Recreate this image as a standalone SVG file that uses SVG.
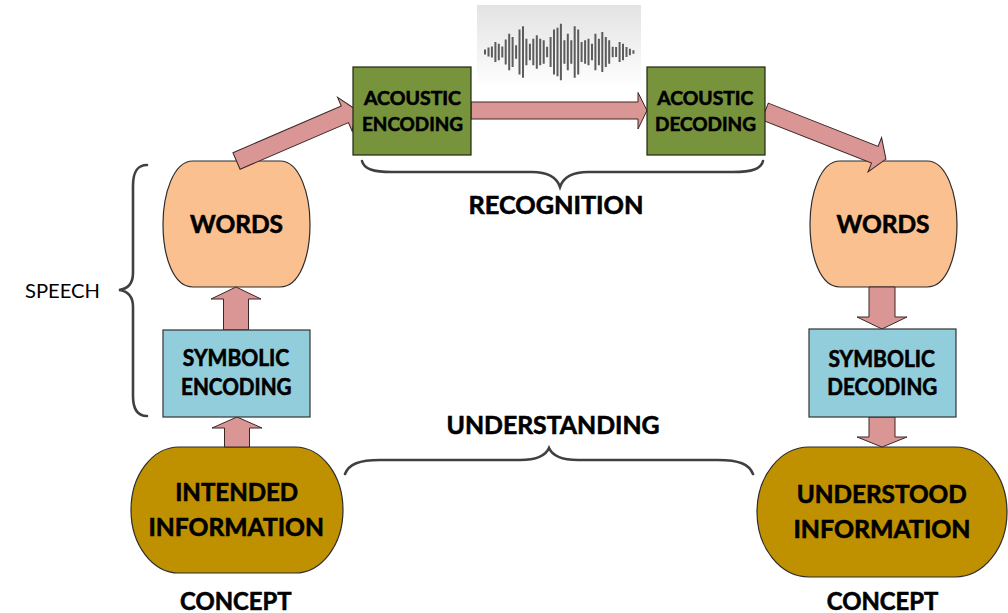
<svg xmlns="http://www.w3.org/2000/svg" width="1008" height="613" viewBox="0 0 1008 613">
  <defs>
    <linearGradient id="waveBg" x1="0" y1="0" x2="0" y2="1">
      <stop offset="0" stop-color="#e3e3e3"/>
      <stop offset="1" stop-color="#fdfdfd"/>
    </linearGradient>
    <style>
      .lbl { font-family: Lato, "Open Sans", "Liberation Sans", sans-serif; font-weight: 700; fill: #000; stroke: #000; stroke-width: 0.6; text-anchor: middle; }
      .plain { font-family: Lato, "Open Sans", "Liberation Sans", sans-serif; font-weight: 400; fill: #000; }
      .words { fill: #FAC090; stroke: #2b2b2b; stroke-width: 1.2; }
      .info { fill: #BF9000; stroke: #2b2b2b; stroke-width: 1.2; }
      .acoustic { fill: #77933C; stroke: #1e2610; stroke-width: 1.2; }
      .symbolic { fill: #92CDDC; stroke: #333; stroke-width: 1.2; }
      .arrow { fill: #D99694; stroke: #3a2626; stroke-width: 1; stroke-linejoin: miter; }
      .brace { fill: none; stroke: #404040; stroke-width: 2.6; stroke-linecap: round; }
    </style>
  </defs>

  <rect width="1008" height="613" fill="#fff"/>

  <!-- sound wave picture between the acoustic stages -->
  <g id="waveform">
    <rect x="477" y="5" width="164" height="79" fill="url(#waveBg)"/>
    <path fill="none" stroke="#5c5c5c" stroke-width="2" d="M485 49.5v5 M488.5 47.5v9 M491.9 46.5v11 M495.4 42v20 M498.8 43.7v16.6 M502.3 46.5v11 M505.7 39.5v25 M509.2 33.7v36.6 M512.6 37v30 M516.1 45.3v13.4 M519.5 29.5v45 M523 26.2v51.6 M526.4 38.7v26.6 M529.9 43.7v16.6 M533.3 38.7v26.6 M536.8 35.3v33.4 M540.2 38.7v26.6 M543.7 40.3v23.4 M547.1 46.7v10.6 M550.6 37v30 M554 29.5v45 M557.5 27.8v48.4 M560.9 23.7v56.6 M564.4 40.3v23.4 M567.8 33.7v36.6 M571.3 40.3v23.4 M574.7 26.2v51.6 M578.2 29.5v45 M581.6 42v20 M585.1 40.3v23.4 M588.5 38.7v26.6 M592 43.7v16.6 M595.4 33.7v36.6 M598.9 38.7v26.6 M602.3 32v40 M605.8 37v30 M609.2 40.3v23.4 M612.7 46.7v10.6 M616.1 47v10 M619.6 42v20 M623 43.7v16.6 M626.5 47v10 M629.9 48.7v6.6 M633.4 50.3v3.4"/>
  </g>

  <g id="words-left">
    <path class="words" d="M193,161 H280 C300,161 310,195 310,224 C310,256 300,287 280,287 H193 C173,287 163,256 163,224 C163,195 173,161 193,161 Z"/>
    <text class="lbl" x="236.5" y="233" font-size="24.5" textLength="93" lengthAdjust="spacingAndGlyphs">WORDS</text>
  </g>

  <g id="words-right">
    <path class="words" d="M840,161 H927 C947,161 957,195 957,224 C957,256 947,287 927,287 H840 C820,287 810,256 810,224 C810,195 820,161 840,161 Z"/>
    <text class="lbl" x="883" y="233" font-size="24.5" textLength="93" lengthAdjust="spacingAndGlyphs">WORDS</text>
  </g>

  <g id="intended-information">
    <rect class="info" x="131" y="447" width="212" height="126" rx="48" ry="63"/>
    <text class="lbl" x="236.7" y="500.7" font-size="24" textLength="123" lengthAdjust="spacingAndGlyphs">INTENDED</text>
    <text class="lbl" x="236.2" y="536" font-size="24" textLength="175.5" lengthAdjust="spacingAndGlyphs">INFORMATION</text>
  </g>

  <g id="understood-information">
    <rect class="info" x="757" y="447" width="250" height="130" rx="52" ry="65"/>
    <text class="lbl" x="881.7" y="502.7" font-size="24" textLength="170" lengthAdjust="spacingAndGlyphs">UNDERSTOOD</text>
    <text class="lbl" x="882" y="538.3" font-size="24" textLength="177" lengthAdjust="spacingAndGlyphs">INFORMATION</text>
  </g>

  <!-- block arrows between the stages -->
  <g id="connectors">
    <polygon class="arrow" transform="translate(236.5 161) rotate(-23.3)" points="0,-9 118,-9 118,-18.5 130,0 118,18.5 118,9 0,9"/>
    <polygon class="arrow" points="471,102 638,102 638,92.5 647,110.5 638,129 638,119 471,119"/>
    <polygon class="arrow" transform="translate(765 111.5) rotate(21.5)" points="0,-9 118,-9 118,-18.5 130,0 118,18.5 118,9 0,9"/>
    <polygon class="arrow" points="223.5,330 223.5,299 211,299 236,287 261,299 248.5,299 248.5,330"/>
    <polygon class="arrow" points="224.5,447 224.5,428 212,428 237,417 262,428 249.5,428 249.5,447"/>
    <polygon class="arrow" points="869,287 869,317 857,317 882,329 907,317 895,317 895,287"/>
    <polygon class="arrow" points="869,417 869,437 857,437 882,447 907,437 895,437 895,417"/>
  </g>

  <g id="acoustic-encoding">
    <rect class="acoustic" x="353" y="67" width="118" height="88"/>
    <text class="lbl" x="412.5" y="104.5" font-size="19" textLength="97" lengthAdjust="spacingAndGlyphs">ACOUSTIC</text>
    <text class="lbl" x="412.5" y="131" font-size="19" textLength="101" lengthAdjust="spacingAndGlyphs">ENCODING</text>
  </g>

  <g id="acoustic-decoding">
    <rect class="acoustic" x="647" y="67" width="118" height="88"/>
    <text class="lbl" x="705.3" y="104.5" font-size="19" textLength="96" lengthAdjust="spacingAndGlyphs">ACOUSTIC</text>
    <text class="lbl" x="705.5" y="131" font-size="19" textLength="101" lengthAdjust="spacingAndGlyphs">DECODING</text>
  </g>

  <g id="symbolic-encoding">
    <rect class="symbolic" x="163" y="330" width="147" height="87"/>
    <text class="lbl" x="236" y="366" font-size="22" textLength="106.5" lengthAdjust="spacingAndGlyphs">SYMBOLIC</text>
    <text class="lbl" x="236.3" y="395" font-size="22" textLength="110.5" lengthAdjust="spacingAndGlyphs">ENCODING</text>
  </g>

  <g id="symbolic-decoding">
    <rect class="symbolic" x="809" y="329" width="147" height="88"/>
    <text class="lbl" x="881.7" y="366.7" font-size="22" textLength="106.5" lengthAdjust="spacingAndGlyphs">SYMBOLIC</text>
    <text class="lbl" x="882.3" y="395" font-size="22" textLength="110" lengthAdjust="spacingAndGlyphs">DECODING</text>
  </g>

  <!-- grouping braces and their captions -->
  <g id="speech">
    <path class="brace" d="M147,165 C137,165 133,172 133,186 L133,273 C133,284 127,289 119,290 C127,291 133,296 133,307 L133,396 C133,409 137,416 147,416"/>
    <text class="plain" x="25" y="298.3" font-size="20" textLength="75" lengthAdjust="spacingAndGlyphs">SPEECH</text>
  </g>

  <g id="recognition">
    <path class="brace" d="M362,161 C364,169 373,172 392,172 L532,172 C549,172 557,178 560,187 C563,178 571,172 588,172 L733,172 C752,172 761,169 763,161"/>
    <text class="lbl" x="556" y="214" font-size="25" textLength="175" lengthAdjust="spacingAndGlyphs">RECOGNITION</text>
  </g>

  <g id="understanding">
    <path class="brace" d="M345,474 C349,464 359,460 380,460 L520,460 C538,460 546,455 549,448 C552,455 560,460 578,460 L718,460 C739,460 749,464 753,474"/>
    <text class="lbl" x="553" y="434" font-size="25" textLength="213" lengthAdjust="spacingAndGlyphs">UNDERSTANDING</text>
  </g>

  <g id="concept-labels">
    <text class="lbl" x="235.8" y="610" font-size="24" textLength="111.5" lengthAdjust="spacingAndGlyphs">CONCEPT</text>
    <text class="lbl" x="882.5" y="610" font-size="24" textLength="111.5" lengthAdjust="spacingAndGlyphs">CONCEPT</text>
  </g>
</svg>
